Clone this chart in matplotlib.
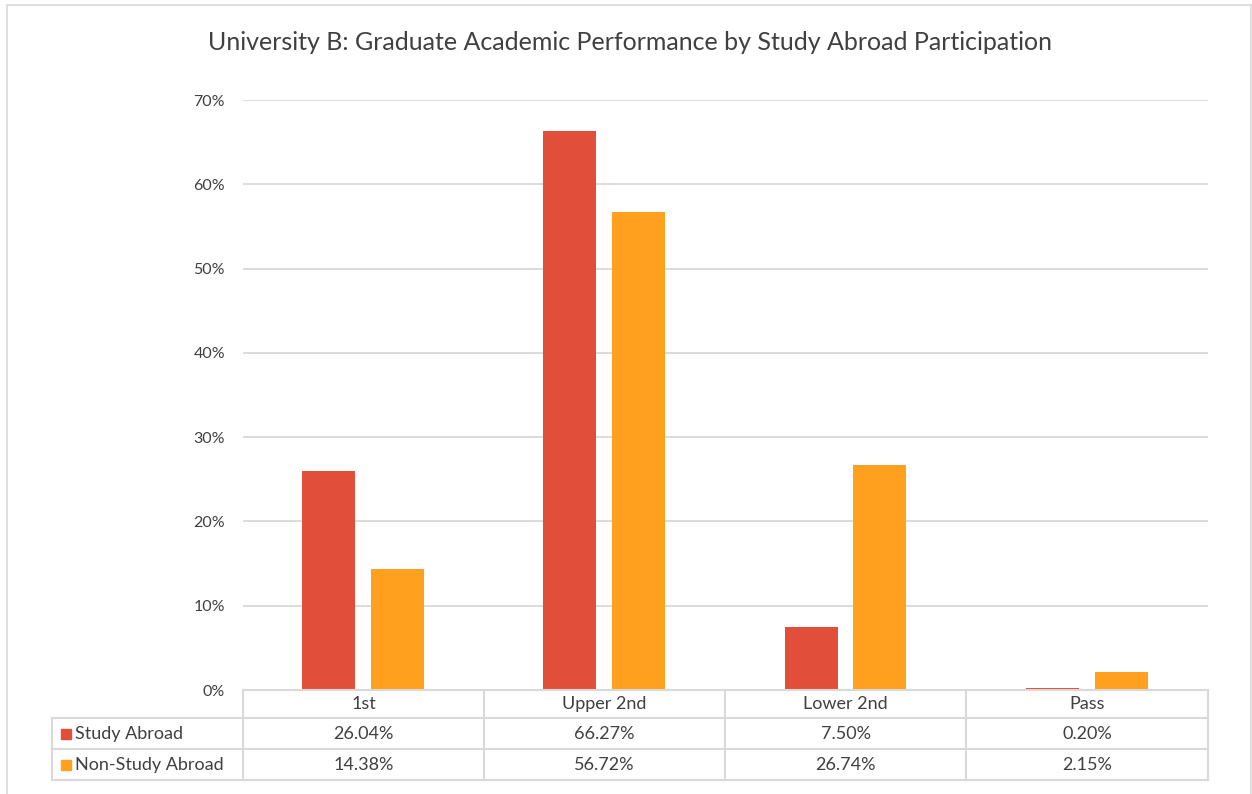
import matplotlib.pyplot as plt
import matplotlib.patches as mpatches
import numpy as np

# data
categories = ['1st', 'Upper 2nd', 'Lower 2nd', 'Pass']
series_names = ['Study Abroad', 'Non-Study Abroad']
study_abroad = [26.04, 66.27, 7.50, 0.20]
non_study_abroad = [14.38, 56.72, 26.74, 2.15]
yticks = [0, 10, 20, 30, 40, 50, 60, 70]

colors = ['#E14F3A', '#FFA11E']
txt = '#404040'
grid = '#D9D9D9'

plt.rcParams['font.family'] = ['Lato', 'DejaVu Sans']

W, H = 1252, 794
fig = plt.figure(figsize=(W / 100, H / 100), dpi=100)

def fx(px):
    return px / W

def fy(py):
    return 1 - py / H

# outer chart border
fig.patches.append(mpatches.Rectangle((fx(7), fy(800)), fx(1251) - fx(7), fy(5) - fy(800),
                                      transform=fig.transFigure, fill=False,
                                      edgecolor=grid, lw=1.2))

ax = fig.add_axes([fx(243), fy(690), fx(1208) - fx(243), fy(100) - fy(690)])
x = np.arange(len(categories))
bw = 0.22
ax.bar(x - 0.145, study_abroad, bw, color=colors[0], zorder=3)
ax.bar(x + 0.14, non_study_abroad, bw, color=colors[1], zorder=3)
ax.set_xlim(-0.5, len(categories) - 0.5)
ax.set_ylim(0, 70)
ax.set_yticks(yticks)
ax.set_yticklabels([f'{t}%' for t in yticks], color=txt, fontsize=11.5)
ax.yaxis.grid(True, color=grid, lw=1.3, zorder=0)
ax.set_xticks([])
ax.tick_params(axis='y', length=0, pad=13)
for s in ax.spines.values():
    s.set_visible(False)

fig.text(fx(630), fy(43), 'University B: Graduate Academic Performance by Study Abroad Participation',
         ha='center', va='center', fontsize=18, color=txt)

# data table below the plot
rows_y = [690, 718, 749, 780]
col_x = [243, 484, 725, 966, 1208]
lc = '#D9D9D9'
lw = 1.5
for i, yy in enumerate(rows_y):
    x0 = 243 if i == 0 else 52
    fig.add_artist(plt.Line2D([fx(x0), fx(1208)], [fy(yy), fy(yy)], color=lc, lw=lw,
                              transform=fig.transFigure))
for xx in col_x:
    fig.add_artist(plt.Line2D([fx(xx), fx(xx)], [fy(690), fy(780)], color=lc, lw=lw,
                              transform=fig.transFigure))
fig.add_artist(plt.Line2D([fx(52), fx(52)], [fy(718), fy(780)], color=lc, lw=lw,
                          transform=fig.transFigure))

fs = 13
for j, cat in enumerate(categories):
    cx = (col_x[j] + col_x[j + 1]) / 2
    fig.text(fx(cx), fy(704), cat, ha='center', va='center', fontsize=fs, color=txt)
    fig.text(fx(cx), fy(734), f'{study_abroad[j]:.2f}%', ha='center', va='center',
             fontsize=fs, color=txt)
    fig.text(fx(cx), fy(765), f'{non_study_abroad[j]:.2f}%', ha='center', va='center',
             fontsize=fs, color=txt)

for k, name in enumerate(series_names):
    yc = 734 if k == 0 else 765
    fig.patches.append(mpatches.Rectangle((fx(61), fy(yc + 5)), fx(10), 10 / H,
                                          transform=fig.transFigure, color=colors[k]))
    fig.text(fx(75), fy(yc), name, ha='left', va='center', fontsize=fs, color=txt)

fig.savefig('out.png', dpi=100)
